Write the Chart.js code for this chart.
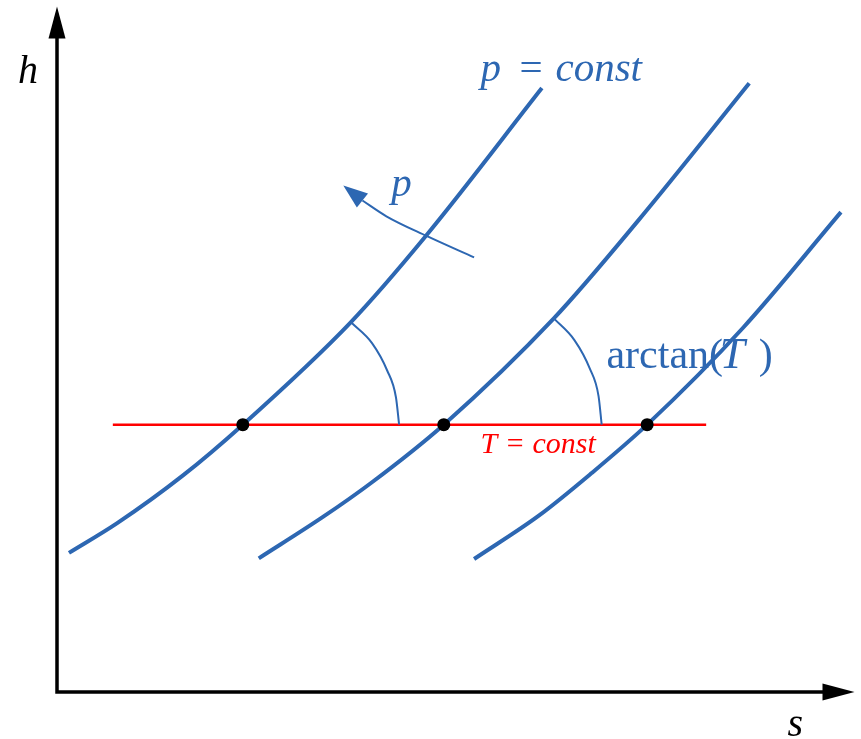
<!DOCTYPE html>
<html>
<head>
<meta charset="utf-8">
<script src="https://cdn.jsdelivr.net/npm/chart.js@4/dist/chart.umd.min.js"></script>
<style>
  html, body { margin: 0; padding: 0; background: #ffffff; }
  #wrap { width: 861px; height: 739px; }
</style>
</head>
<body>
<div id="wrap"><canvas id="hs" width="861" height="739"></canvas></div>
<script>
// h–s diagram: three isobars, one isotherm, and the slope angle arctan(T)

// isobars p = const, as [s, h] pairs (arbitrary units)
const isobarLow  = [[0.15, 2.03], [0.75, 2.46], [1.58, 3.16], [2.33, 3.90], [3.68, 5.39], [4.63, 6.66], [6.08, 8.81]];
const isobarMid  = [[2.53, 1.95], [3.33, 2.55], [3.95, 3.06], [4.85, 3.90], [6.23, 5.45], [7.29, 6.88], [8.68, 8.88]];
const isobarHigh = [[5.23, 1.94], [6.05, 2.58], [6.70, 3.19], [7.40, 3.90], [8.60, 5.31], [9.83, 7.00]];

// isotherm T = const
const isothermH = 3.9;
const isothermS = [0.70, 8.14];

// state points where the isotherm crosses each isobar
const crossingS = [2.33, 4.85, 7.40];

// angle arcs between the isotherm and the isobar tangent
const angleArcA = [[3.69, 5.39], [3.95, 5.09], [4.14, 4.69], [4.25, 4.30], [4.29, 3.90]];
const angleArcB = [[6.23, 5.45], [6.49, 5.13], [6.68, 4.72], [6.79, 4.32], [6.83, 3.90]];

// direction of rising pressure: shaft from its head end, then the tip
const pressureShaft = [[3.83, 7.17], [4.13, 6.94], [4.64, 6.65], [5.23, 6.34]];
const pressureTip = [3.59, 7.39];

const BLUE = '#2d67b2';
const RED = '#ff0000';
const toXY = arr => arr.map(([s, h]) => ({ x: s, y: h }));

// axes with arrow heads, drawn along the chart area edges
const axesPlugin = {
  id: 'hsAxes',
  beforeDatasetsDraw(chart) {
    const { ctx, chartArea: a } = chart;
    ctx.save();
    ctx.strokeStyle = '#000';
    ctx.fillStyle = '#000';
    ctx.lineWidth = 3.5;
    ctx.beginPath();
    ctx.moveTo(a.left, a.top + 25);
    ctx.lineTo(a.left, a.bottom);
    ctx.lineTo(a.right - 25, a.bottom);
    ctx.stroke();
    ctx.beginPath();
    ctx.moveTo(a.left, a.top);
    ctx.lineTo(a.left - 8.5, a.top + 32);
    ctx.lineTo(a.left + 8.5, a.top + 32);
    ctx.closePath();
    ctx.fill();
    ctx.beginPath();
    ctx.moveTo(a.right, a.bottom);
    ctx.lineTo(a.right - 32, a.bottom - 8.5);
    ctx.lineTo(a.right - 32, a.bottom + 8.5);
    ctx.closePath();
    ctx.fill();
    ctx.restore();
  }
};

// arrow head on the pressure arrow and the text labels
const labelsPlugin = {
  id: 'hsLabels',
  afterDatasetsDraw(chart) {
    const { ctx, scales: { x, y } } = chart;
    const px = s => x.getPixelForValue(s);
    const py = h => y.getPixelForValue(h);
    ctx.save();

    // arrow head from the shaft end to the tip
    const tx = px(pressureTip[0]), ty = py(pressureTip[1]);
    const bx = px(pressureShaft[0][0]), by = py(pressureShaft[0][1]);
    const ang = Math.atan2(ty - by, tx - bx);
    const len = Math.hypot(tx - bx, ty - by), half = 9;
    ctx.fillStyle = BLUE;
    ctx.beginPath();
    ctx.moveTo(tx, ty);
    ctx.lineTo(tx - len * Math.cos(ang) + half * Math.sin(ang), ty - len * Math.sin(ang) - half * Math.cos(ang));
    ctx.lineTo(tx - len * Math.cos(ang) - half * Math.sin(ang), ty - len * Math.sin(ang) + half * Math.cos(ang));
    ctx.closePath();
    ctx.fill();

    ctx.textBaseline = 'alphabetic';
    ctx.textAlign = 'left';
    const put = (text, s, h, font, color) => {
      ctx.font = font;
      ctx.fillStyle = color;
      ctx.fillText(text, px(s), py(h));
    };
    const serifI = size => `italic ${size}px "Liberation Serif", "Times New Roman", serif`;
    const serif = size => `${size}px "Liberation Serif", "Times New Roman", serif`;

    // axis names
    put('h', -0.49, 8.89, serifI(40), '#000');
    put('s', 9.16, -0.64, serifI(40), '#000');

    // isobar caption
    put('p', 5.31, 8.92, serifI(41), BLUE);
    put('=', 5.80, 8.92, serif(41), BLUE);
    put('const', 6.25, 8.92, serifI(41), BLUE);

    // pressure arrow caption
    put('p', 4.19, 7.23, serifI(41), BLUE);

    // slope caption
    put('arctan(', 6.89, 4.72, serif(42), BLUE);
    put('T', 8.31, 4.72, serifI(45), BLUE);
    put(')', 8.80, 4.72, serif(42), BLUE);

    // isotherm caption
    put('T = const', 5.31, 3.48, serifI(30), RED);

    ctx.restore();
  }
};

const curve = (data, width, order) => ({
  data: toXY(data),
  showLine: true,
  borderColor: BLUE,
  borderWidth: width,
  pointRadius: 0,
  cubicInterpolationMode: 'monotone',
  borderCapStyle: 'butt',
  fill: false,
  order
});

new Chart(document.getElementById('hs'), {
  type: 'scatter',
  data: {
    datasets: [
      {
        data: [{ x: isothermS[0], y: isothermH }, { x: isothermS[1], y: isothermH }],
        showLine: true,
        borderColor: RED,
        borderWidth: 2.5,
        pointRadius: 0,
        order: 3
      },
      curve(isobarLow, 4, 1),
      curve(isobarMid, 4, 1),
      curve(isobarHigh, 4, 1),
      curve(angleArcA, 2, 2),
      curve(angleArcB, 2, 2),
      curve(pressureShaft, 2, 2),
      {
        data: crossingS.map(s => ({ x: s, y: isothermH })),
        showLine: false,
        pointRadius: 6.5,
        pointHoverRadius: 6.5,
        pointBackgroundColor: '#000',
        pointBorderColor: '#000',
        pointBorderWidth: 0,
        order: 0
      }
    ]
  },
  options: {
    responsive: false,
    animation: false,
    layout: { padding: { left: 57, right: 4, top: 6, bottom: 47 } },
    plugins: { legend: { display: false }, tooltip: { enabled: false } },
    scales: {
      x: { type: 'linear', min: 0, max: 10, display: false },
      y: { type: 'linear', min: 0, max: 10, display: false }
    },
    elements: { line: { borderJoinStyle: 'round' } }
  },
  plugins: [axesPlugin, labelsPlugin]
});
</script>
</body>
</html>
